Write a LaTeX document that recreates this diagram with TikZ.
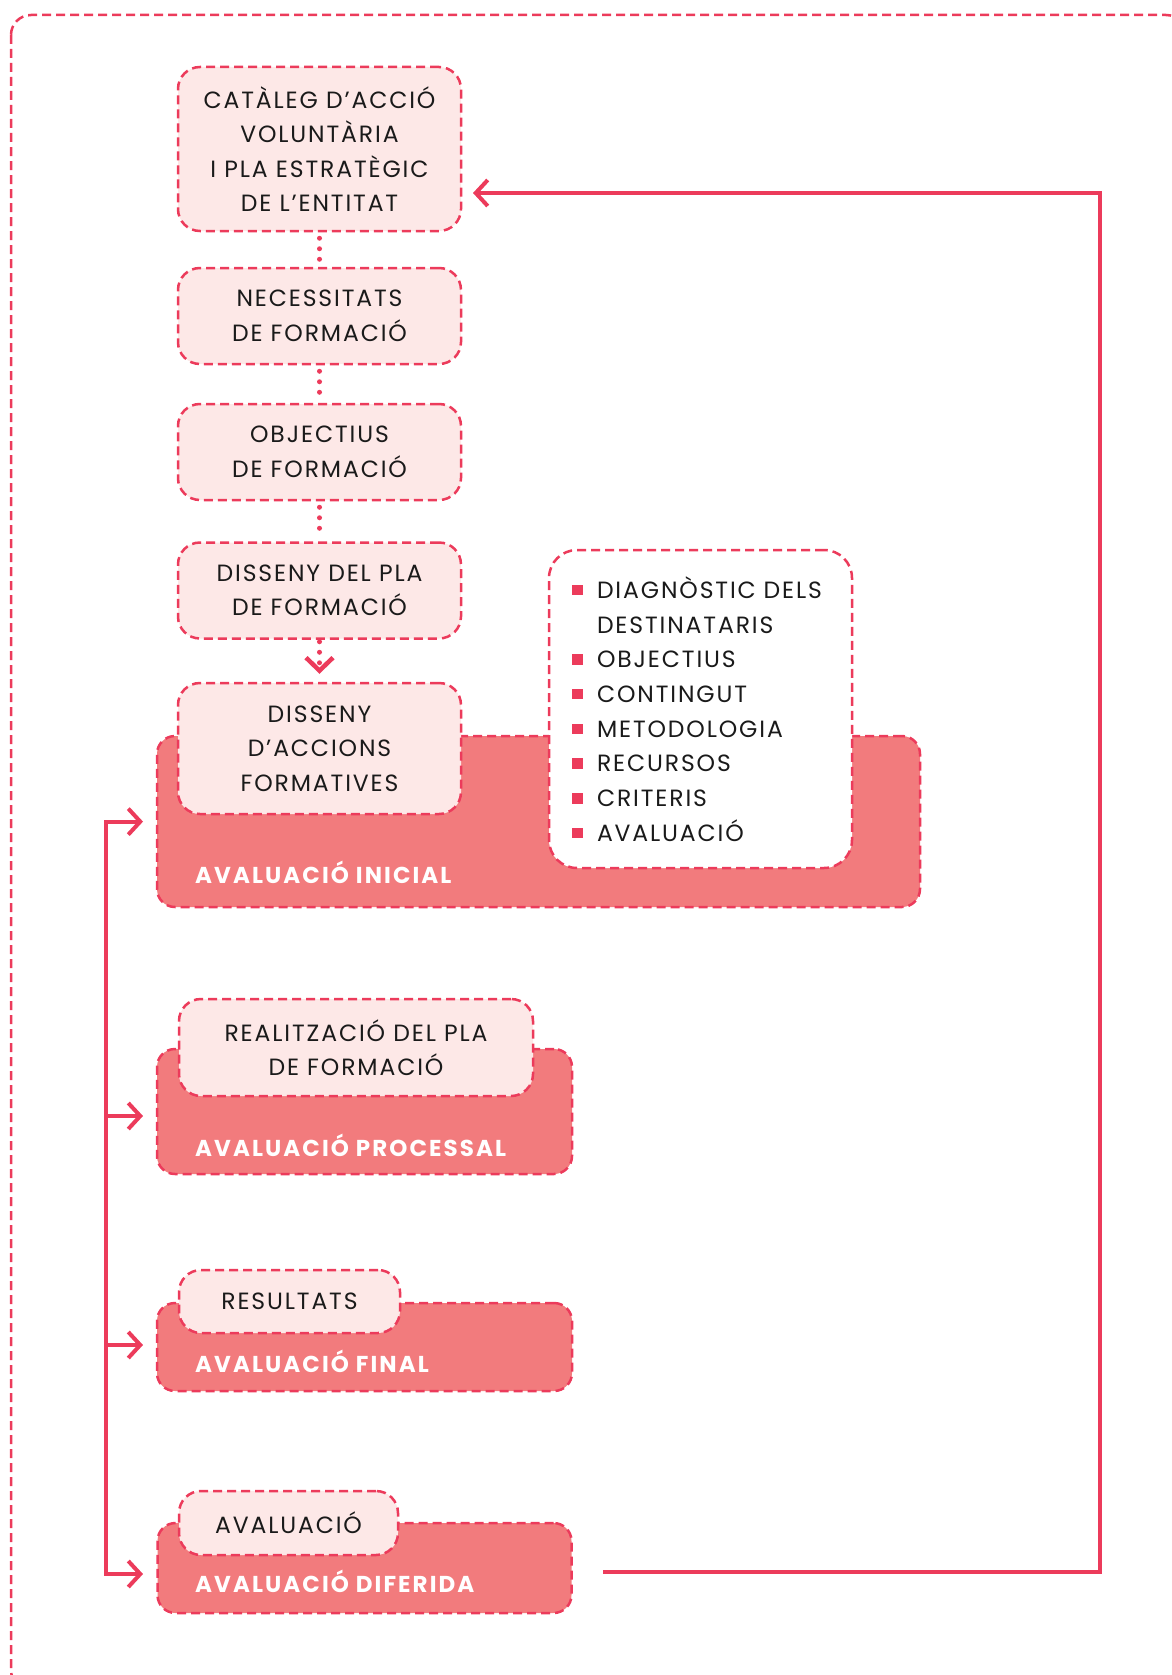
\documentclass[tikz,border=0pt]{standalone}
\usepackage{fontspec}
\setmainfont{Poppins}
\usetikzlibrary{arrows.meta}
\definecolor{bred}{HTML}{EC3B5B}
\definecolor{lightf}{HTML}{FDE8E7}
\definecolor{darkf}{HTML}{F27B7D}
\definecolor{txt}{HTML}{1A1A1A}
\newcommand{\lstbul}{{\color{bred}\rule[3pt]{10.5pt}{10.5pt}}\hspace{14.5pt}}
\newcommand{\boxfont}{\fontsize{23.5}{34.5}\selectfont\addfontfeatures{LetterSpace=8}}
\tikzset{
  dashb/.style={draw=bred, line width=2.5pt, dash pattern=on 9pt off 5pt},
  lightbox/.style={dashb, fill=lightf, rounded corners=22pt, text=txt, align=center,
    font=\boxfont, inner sep=0pt},
  darkbox/.style={dashb, fill=darkf, rounded corners=18pt, inner sep=0pt},
  darklabel/.style={text=white, font=\bfseries\fontsize{23}{25}\selectfont\addfontfeatures{LetterSpace=9}, inner sep=0pt, anchor=base west},
  conn/.style={draw=bred, line width=4pt},
  dots/.style={draw=bred, line width=5pt, line cap=round, dash pattern=on 0pt off 10.5pt},
  myTip/.tip={Straight Barb[length=12pt,width=26pt]},
}
\begin{document}
\begin{tikzpicture}[x=1pt,y=-1pt]
\useasboundingbox (0,0) rectangle (1171,1675);
% outer frame
\draw[dashb, rounded corners=20pt] (11,15) rectangle (1186,1690);

% dark boxes
\node[darkbox, minimum width=763pt, minimum height=171pt] (ini) at (538.5,821.5) {};
\node[darkbox, minimum width=415pt, minimum height=125pt] (proc) at (364.5,1111.5) {};
\node[darkbox, minimum width=415pt, minimum height=88pt] (fin) at (364.5,1347) {};
\node[darkbox, minimum width=414pt, minimum height=90pt] (dif) at (364.5,1568) {};

% light boxes
\node[lightbox, minimum width=283pt, minimum height=164pt] (cat) at (319.5,149) {CATÀLEG D’ACCIÓ\\VOLUNTÀRIA\\I PLA ESTRATÈGIC\\DE L’ENTITAT};
\node[lightbox, minimum width=283pt, minimum height=96pt] (nec) at (319.5,316) {NECESSITATS\\DE FORMACIÓ};
\node[lightbox, minimum width=283pt, minimum height=96pt] (obj) at (319.5,452) {OBJECTIUS\\DE FORMACIÓ};
\node[lightbox, minimum width=283pt, minimum height=96pt] (dpla) at (319.5,590.5) {DISSENY DEL PLA\\DE FORMACIÓ};
\node[lightbox, minimum width=283pt, minimum height=131pt] (dacc) at (319.5,748.5) {DISSENY\\D’ACCIONS\\FORMATIVES};
\node[lightbox, minimum width=354pt, minimum height=97pt] (real) at (356,1047.5) {REALITZACIÓ DEL PLA\\DE FORMACIÓ};
\node[lightbox, minimum width=221pt, minimum height=63pt] (res) at (289.5,1301.5) {RESULTATS};
\node[lightbox, minimum width=219pt, minimum height=64pt] (aval) at (288.5,1523) {AVALUACIÓ};

% list box
\node[dashb, fill=white, rounded corners=28pt, minimum width=303pt, minimum height=318pt,
  text=txt, align=left, text width=257pt, inner sep=0pt, font=\fontsize{23.5}{34.7}\selectfont\addfontfeatures{LetterSpace=8}] (list) at (700.5,709)
  {\lstbul DIAGNÒSTIC DELS\\\hspace*{25pt}DESTINATARIS\\\lstbul OBJECTIUS\\\lstbul CONTINGUT\\\lstbul METODOLOGIA\\\lstbul RECURSOS\\\lstbul CRITERIS\\\lstbul AVALUACIÓ};

% labels of dark boxes
\node[darklabel] (inilab) at (195,883) {AVALUACIÓ INICIAL};
\node[darklabel] (proclab) at (195,1156) {AVALUACIÓ PROCESSAL};
\node[darklabel] (finlab) at (195,1372) {AVALUACIÓ FINAL};
\node[darklabel] (diflab) at (195,1592) {AVALUACIÓ DIFERIDA};

% dotted connectors
\draw[dots, shorten <=6pt, shorten >=6pt] (cat.south) -- (nec.north);
\draw[dots, shorten <=6pt, shorten >=6pt] (nec.south) -- (obj.north);
\draw[dots, shorten <=6pt, shorten >=6pt] (obj.south) -- (dpla.north);
\draw[dots, shorten <=2pt, shorten >=8pt, -{Straight Barb[length=13pt,width=27pt,line width=4.5pt]}] (dpla.south) -- (dacc.north);

% coordinates for connectors
\coordinate (iniin) at (143,821.6);
\coordinate (procin) at (143,1116);
\coordinate (finin) at (143,1345);
\coordinate (difin) at (143,1574);
\coordinate (lbot) at (105.7,1574);
\coordinate (difout) at (603,1572);
\coordinate (fbcorner) at (1100,193);
\coordinate (catin) at (473,193);

% left bracket arrows
\draw[conn, {myTip}-{myTip}] (iniin) -| (lbot) -- (difin);
\draw[conn, -{myTip}] (procin -| lbot) -- (procin);
\draw[conn, -{myTip}] (finin -| lbot) -- (finin);

% feedback
\draw[conn, -{myTip}] (difout) -| (fbcorner) -- (catin);
\end{tikzpicture}
\end{document}
